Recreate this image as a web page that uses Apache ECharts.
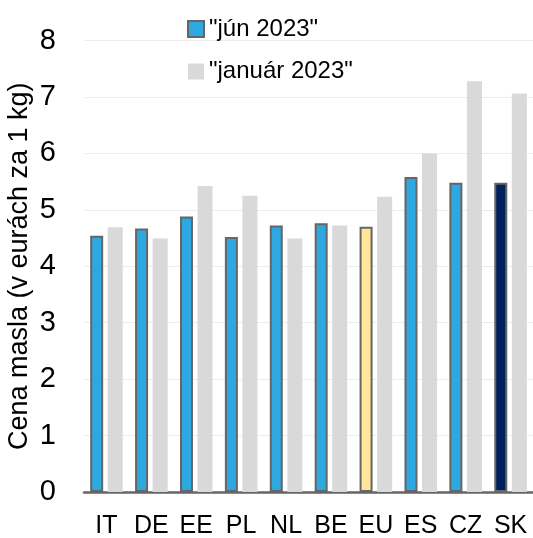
<!DOCTYPE html>
<html>
<head>
<meta charset="utf-8">
<script src="https://cdn.jsdelivr.net/npm/echarts@6/dist/echarts.min.js"></script>
<style>html,body{margin:0;padding:0;background:#fff}#c{width:533px;height:538px}</style>
</head>
<body>
<div id="c"></div>
<script>
const categories = ['IT','DE','EE','PL','NL','BE','EU','ES','CZ','SK'];
const jun2023 = [4.54, 4.67, 4.88, 4.52, 4.72, 4.76, 4.70, 5.58, 5.48, 5.48];
const jan2023 = [4.69, 4.49, 5.42, 5.25, 4.49, 4.72, 5.23, 6.00, 7.28, 7.06];
const seriesNames = ['"jún 2023"', '"január 2023"'];
const yTicks = [0,1,2,3,4,5,6,7,8];
const specialColors = { EU: '#FFE699', SK: '#002060' };

const FONT = '"Liberation Sans", Arial, sans-serif';
const chart = echarts.init(document.getElementById('c'), null, {renderer: 'canvas'});
chart.setOption({
  animation: false,
  backgroundColor: '#fff',
  textStyle: { fontFamily: FONT },
  legend: {
    orient: 'vertical',
    left: 187, top: 16,
    padding: 0,
    itemWidth: 16, itemHeight: 16, itemGap: 16.5,
    icon: 'rect',
    textStyle: { fontFamily: FONT, fontSize: 24, color: '#000', lineHeight: 26 },
    data: seriesNames
  },
  grid: { left: 84, right: 0, top: 40.5, bottom: 46, containLabel: false, outerBoundsMode: 'none' },
  xAxis: {
    type: 'category',
    data: categories,
    axisTick: { show: false },
    axisLine: { lineStyle: { color: '#666', width: 2.5 } },
    axisLabel: { fontFamily: FONT, fontSize: 25, color: '#000', margin: 22, interval: 0 }
  },
  yAxis: {
    type: 'value',
    min: yTicks[0], max: yTicks[yTicks.length-1], interval: 1,
    name: 'Cena masla (v eurách za 1 kg)',
    nameLocation: 'middle',
    nameGap: 51,
    nameMoveOverlap: false,
    nameTextStyle: { fontFamily: FONT, fontSize: 27, color: '#000' },
    axisLine: { show: false },
    axisTick: { show: false },
    axisLabel: { fontFamily: FONT, fontSize: 29, color: '#000', margin: 28 },
    splitLine: { lineStyle: { color: '#ECECEC', width: 1 } }
  },
  series: [
    {
      name: seriesNames[0],
      type: 'bar',
      barWidth: 13,
      barGap: '35%',
      itemStyle: { color: '#2EA8E0', borderColor: '#666', borderWidth: 2 },
      data: jun2023.map((v, i) => specialColors[categories[i]]
        ? { value: v, itemStyle: { color: specialColors[categories[i]] } }
        : v)
    },
    {
      name: seriesNames[1],
      type: 'bar',
      barWidth: 15,
      itemStyle: { color: '#D9D9D9' },
      data: jan2023
    }
  ]
});
</script>
</body>
</html>
